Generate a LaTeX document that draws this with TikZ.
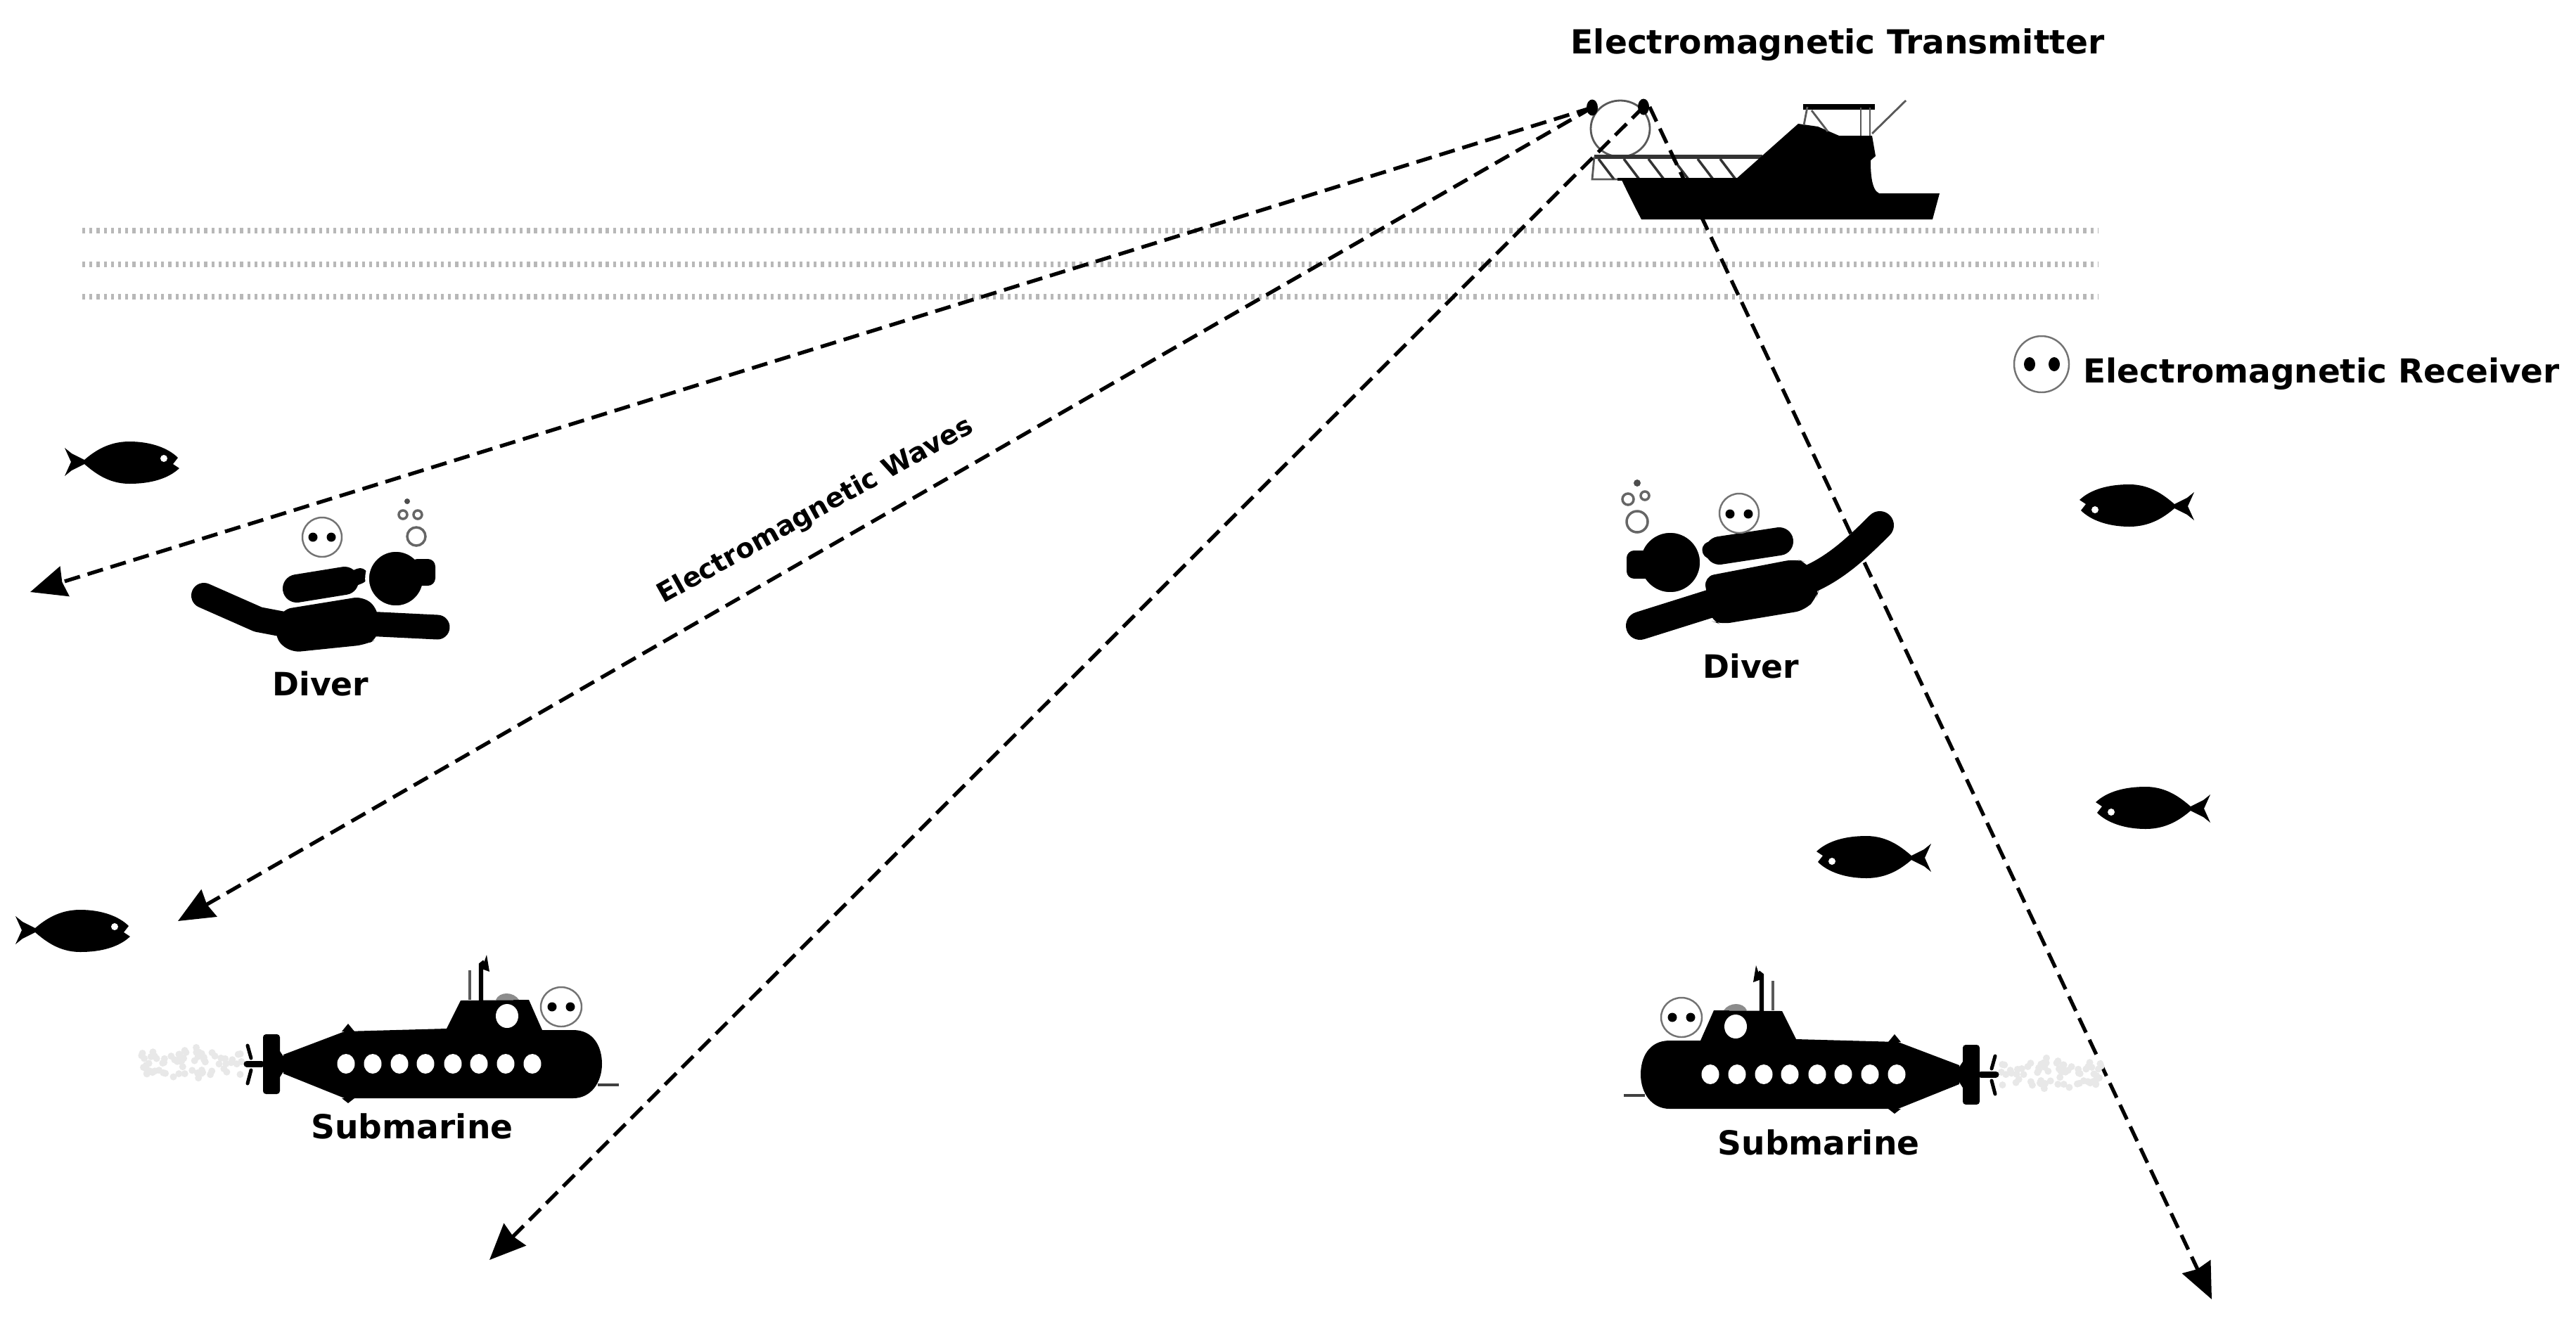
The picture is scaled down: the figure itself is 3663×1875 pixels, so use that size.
\documentclass[tikz,border=0pt]{standalone}
\usepackage{fontspec}
\setmainfont{DejaVu Sans}
\usetikzlibrary{arrows.meta,shapes.geometric}
\def\pxu{0.2845pt}
\tikzset{
  x=0.01cm,y=-0.01cm,
  lbl/.style={font=\bfseries\fontsize{#1}{#1}\selectfont,inner sep=0pt,text=black},
  wave/.style={line width=1.5pt,dash pattern=on 6.5pt off 3.2pt,-{Stealth[length=14.5pt,width=12.5pt,inset=1pt]}},
  water/.style={line width=2.3pt,black!28,dash pattern=on 1.2pt off 1.7pt},
  blob/.style={line width=#1*\pxu,line cap=round,line join=round,black},
  halo/.style={line width=#1*\pxu,line cap=round,line join=round,white},
  thinpart/.style={line width=0.8pt,black!65},
  rim/.style={line width=0.7pt,black!55,fill=white},
  bub/.style={line width=1pt,black!60},
  txdot/.style={shape=ellipse,fill=black,inner sep=0pt,minimum width=16*\pxu,minimum height=23*\pxu},
  fishpic/.pic={
    \fill[black] (0,-20) -- (10,-12) -- (28,-3) .. controls (42,-15) and (62,-29) .. (92,-29)
      .. controls (122,-29) and (147,-20) .. (161,-6) -- (154,3) -- (163,9)
      .. controls (147,24) and (122,31) .. (92,31) .. controls (62,31) and (42,15) .. (28,3)
      -- (10,12) -- (0,20) -- (9,0) -- cycle;
    \fill[white] (141,-5) circle[radius=5];
  },
  recvpic/.pic={
    \draw[rim] (0,0) circle[radius=28];
    \fill[black] (-13,0) circle[radius=6.5] (13,0) circle[radius=6.5];
  },
  subpic/.pic={
    \pgfmathsetseed{42}
    \foreach \i in {1,...,70}{
      \pgfmathsetmacro{\wx}{rnd}
      \pgfmathsetmacro{\wy}{(rnd-0.5)*(16+30*(1-abs(\wx-0.55)))}
      \fill[black!9] ({199+145*\wx},{1512+\wy}) circle[radius=5];
    }
    \fill[black] (403,1500) -- (490,1467) -- (635,1463) -- (655,1423) -- (752,1422)
      -- (771,1465) -- (815,1465) .. controls (845,1465) and (856,1490) .. (856,1513)
      .. controls (856,1540) and (840,1562) .. (815,1562) -- (490,1562) -- (403,1527) -- cycle;
    \fill[black] (486,1467) -- (495,1456) -- (504,1467) -- cycle;
    \fill[black] (486,1562) -- (495,1569) -- (504,1562) -- cycle;
    \fill[black,rounded corners=1.2pt] (374,1471) rectangle (398,1556);
    \fill[black] (398,1495) -- (410,1513) -- (398,1532) -- cycle;
    \draw[blob=9] (351,1513) -- (372,1513);
    \draw[blob=5] (352,1487) -- (357,1505) (357,1522) -- (352,1541);
    \fill[black!45] (705,1422) .. controls (710,1410) and (730,1410) .. (738,1422) -- cycle;
    \foreach \wxx in {492,530,568,605,644,681,719,757}{
      \fill[white] (\wxx,1513) ellipse[x radius=12.5,y radius=14];
    }
    \fill[white] (721,1445) ellipse[x radius=16,y radius=17];
    \draw[line width=1pt,black!65] (668,1380) -- (668,1422);
    \draw[line width=1.8pt,black] (684,1423) -- (684,1372) -- (689,1368);
    \fill[black] (692,1358) -- (696,1382) -- (685,1378) -- cycle;
    \draw[line width=1.4pt,black!75] (850,1543) -- (880,1543);
    \draw[rim] (798,1432) ellipse[x radius=29,y radius=28];
    \fill[black] (785,1432) circle[radius=6.5] (811,1432) circle[radius=6.5];
  }
}
\begin{document}
\begin{tikzpicture}
\useasboundingbox (0,0) rectangle (3663,1875);
\fill[white] (0,0) rectangle (3663,1875);
% sea surface
\coordinate (w1a) at (117,328); \coordinate (w1b) at (2983,328);
\coordinate (w2a) at (117,376); \coordinate (w2b) at (2983,376);
\coordinate (w3a) at (117,422); \coordinate (w3b) at (2983,422);
\draw[water] (w1a) -- (w1b);
\draw[water] (w2a) -- (w2b);
\draw[water] (w3a) -- (w3b);
% transmitter loop and feed points
\draw[thinpart] (2304,183) ellipse[x radius=42,y radius=40];
\node[txdot] (dotL) at (2264,153) {};
\node[txdot] (dotR) at (2337,152) {};
% ship
\draw[line width=1.5pt,black!80] (2267,223) -- (2506,223);
\draw[thinpart] (2267,223) -- (2264,255) -- (2310,255);
\foreach \sx in {2273,2309,2344,2379,2414,2446}{
  \draw[line width=1pt,black!80] (\sx,226) -- (\sx+22,255);
}
\draw[line width=1pt,black] (2300,255) -- (2470,255);
\coordinate (t1) at (43,842);
\coordinate (t2) at (253,1310);
\coordinate (t3) at (696,1792);
\coordinate (t4) at (3145,1848);
\draw[wave] (dotL.center) -- (t1);
\draw[wave] (dotL.center) -- (t2);
\draw[wave] (dotR.center) -- (t3);
\draw[wave] (dotR.east) -- (t4);
\fill[black] (2305,254) .. controls (2315,275) and (2325,295) .. (2334,312) -- (2748,312) -- (2758,275) -- (2672,275)
  .. controls (2660,270) and (2660,240) .. (2660,228) -- (2667,222) -- (2662,193) -- (2615,193)
  -- (2585,180) -- (2557,176) -- (2468,255) -- cycle;
\draw[line width=2pt,black] (2564,152) -- (2666,152);
\draw[thinpart] (2570,152) -- (2565,178);
\draw[thinpart] (2576,157) -- (2599,187);
\draw[thinpart] (2646,153) -- (2646,193);
\draw[thinpart] (2659,153) -- (2659,193);
\draw[thinpart] (2662,190) -- (2710,143);
% legend
\draw[rim] (2903,518) ellipse[x radius=39,y radius=40];
\fill[black] (2886,518) ellipse[x radius=8,y radius=10];
\fill[black] (2921,518) ellipse[x radius=8,y radius=10];
% labels
\node[lbl=13.4pt] (txlabel) at (2613,64) {Electromagnetic Transmitter};
\node[lbl=13.35pt,anchor=west] (rxlabel) at (2962,532) {Electromagnetic Receiver};
\node[lbl=10.9pt,rotate=29] (wavelabel) at (1160,727) {Electromagnetic Waves};
\node[lbl=13pt] (diverA) at (456,972) {Diver};
\node[lbl=13pt] (diverB) at (2490,947) {Diver};
\node[lbl=13.4pt] (subA) at (586,1602) {Submarine};
\node[lbl=13.4pt] (subB) at (2586,1625) {Submarine};
% left diver
\draw[blob=36] (290,847) -- (367,881) -- (430,893);
\fill[black,rounded corners=4pt] (400,867) -- (517,848) -- (538,867) -- (538,908) -- (520,917) -- (413,928) -- (390,907) -- cycle;
\draw[blob=35] (520,887) -- (622,892);
\draw[halo=46] (422,837) -- (490,826);
\draw[blob=40] (422,837) -- (490,826);
\draw[blob=22] (495,826) -- (512,819);
\draw[white,line width=1.6pt,fill=black] (563,823) circle[radius=41];
\fill[black,rounded corners=3pt] (583,795) rectangle (619,833);
\pic at (458,764) {recvpic};
\draw[bub] (592,763) circle[radius=13];
\draw[bub] (594,732) circle[radius=6];
\draw[bub] (573,732) circle[radius=6];
\fill[black!70] (579,713) circle[radius=4];
% right diver
\draw[blob=40] (2332,890) -- (2437,857);
\fill[black,rounded corners=4pt] (2423,820) -- (2553,795) -- (2570,800) -- (2587,837) -- (2583,850) -- (2567,868) -- (2447,888) -- (2433,883) -- cycle;
\draw[blob=40] (2570,825) .. controls (2610,808) and (2640,780) .. (2673,747);
\draw[halo=46] (2445,783) -- (2530,770);
\draw[blob=40] (2445,783) -- (2530,770);
\draw[blob=25] (2433,782) -- (2450,782);
\draw[white,line width=1.6pt,fill=black] (2375,800) circle[radius=45];
\fill[black,rounded corners=3pt] (2313,783) rectangle (2350,823);
\draw[rim] (2473,730) circle[radius=28];
\fill[black] (2460,731) circle[radius=6.5] (2486,731) circle[radius=6.5];
\draw[bub] (2328,742) circle[radius=15];
\draw[bub] (2315,710) circle[radius=8];
\draw[bub] (2339,705) circle[radius=6];
\fill[black!70] (2328,687) circle[radius=5];
% submarines
\pic at (0,0) {subpic};
\pic[xscale=-1] at (3189,15) {subpic};
% fish
\pic at (92,657) {fishpic};
\pic at (22,1323) {fishpic};
\pic[rotate=180] at (3120,720) {fishpic};
\pic[rotate=180] at (2746,1220) {fishpic};
\pic[rotate=180] at (3143,1150) {fishpic};
\end{tikzpicture}
\end{document}
